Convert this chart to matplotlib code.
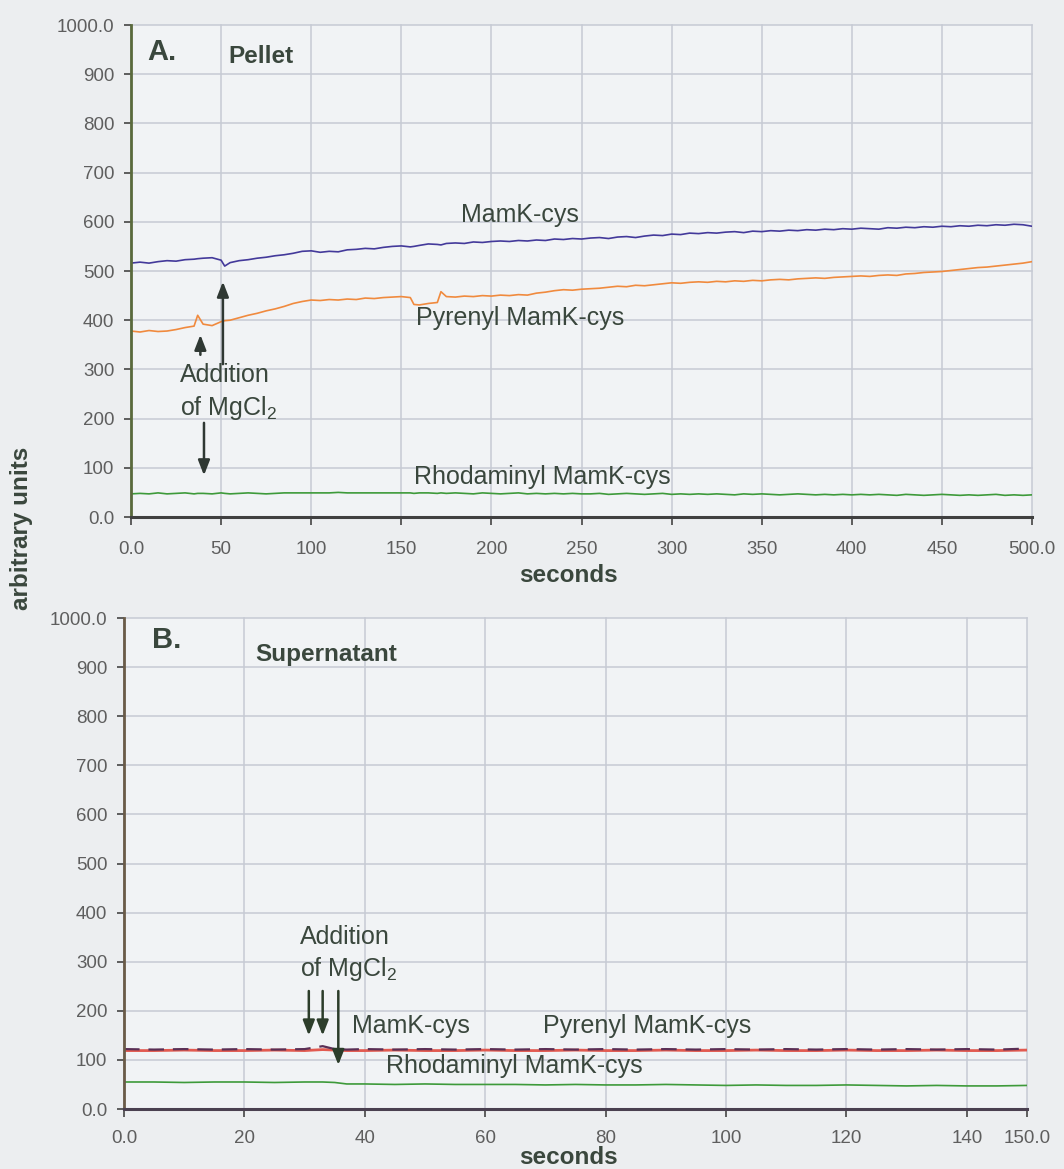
import matplotlib
matplotlib.use("Agg")
import matplotlib.pyplot as plt
from matplotlib.ticker import FixedLocator, FixedFormatter

plt.rcParams['font.family'] = ['Liberation Sans', 'DejaVu Sans']
plt.rcParams['mathtext.fontset'] = 'custom'
plt.rcParams['mathtext.rm'] = 'Liberation Sans'
plt.rcParams['mathtext.it'] = 'Liberation Sans:italic'
plt.rcParams['mathtext.bf'] = 'Liberation Sans:bold'

# ---------------- Panel A: pellet, 0-500 s ----------------
t_a = [0, 5, 10, 15, 20, 25, 30, 35, 37, 40, 45, 50, 52, 55, 60, 65, 70, 75, 80, 85,
       90, 95, 100, 105, 110, 115, 120, 125, 130, 135, 140, 145, 150, 155, 157, 160,
       165, 170, 172, 175, 180, 185, 190, 195, 200, 205, 210, 215, 220, 225, 230,
       235, 240, 245, 250, 255, 260, 265, 270, 275, 280, 285, 290, 295, 300, 305,
       310, 315, 320, 325, 330, 335, 340, 345, 350, 355, 360, 365, 370, 375, 380,
       385, 390, 395, 400, 405, 410, 415, 420, 425, 430, 435, 440, 445, 450, 455,
       460, 465, 470, 475, 480, 485, 490, 495, 500]

mamk_a = [516, 518, 516, 519, 521, 520, 523, 524, 525, 526, 527, 522, 510, 517, 521,
          523, 526, 528, 531, 533, 536, 540, 541, 538, 540, 539, 543, 544, 546, 545,
          548, 550, 551, 549, 550, 552, 555, 554, 553, 556, 557, 556, 559, 558, 560,
          561, 560, 562, 561, 563, 562, 565, 564, 566, 565, 567, 568, 566, 569, 570,
          568, 571, 573, 572, 575, 574, 577, 576, 578, 577, 579, 580, 578, 581, 580,
          582, 581, 583, 582, 584, 583, 585, 584, 586, 585, 587, 586, 585, 588, 587,
          589, 588, 590, 589, 591, 590, 592, 591, 593, 592, 594, 593, 595, 594, 591]

pyrenyl_a = [378, 376, 379, 377, 378, 381, 385, 388, 410, 392, 389, 397, 399, 400, 405,
             410, 414, 419, 423, 428, 434, 438, 441, 440, 442, 441, 443, 442, 445, 444,
             446, 447, 448, 446, 432, 431, 434, 436, 458, 448, 447, 449, 448, 450, 449,
             451, 450, 452, 451, 455, 457, 460, 462, 461, 463, 464, 465, 467, 469, 468,
             471, 470, 472, 474, 476, 475, 477, 478, 477, 479, 478, 480, 479, 481, 480,
             482, 483, 482, 484, 485, 486, 485, 487, 488, 489, 490, 489, 491, 492, 491,
             494, 495, 497, 498, 499, 501, 503, 505, 507, 508, 510, 512, 514, 516, 519]

rhodaminyl_a = [47, 48, 47, 49, 47, 48, 49, 47, 48, 48, 47, 49, 48, 47, 48,
                49, 48, 47, 48, 49, 49, 49, 49, 49, 49, 50, 49, 49, 49, 49,
                49, 49, 49, 49, 48, 49, 49, 48, 49, 48, 49, 48, 47, 49, 48,
                47, 48, 49, 47, 48, 47, 48, 47, 48, 47, 47, 48, 46, 47, 48,
                47, 46, 47, 48, 46, 47, 46, 47, 46, 47, 46, 45, 47, 46, 47,
                46, 45, 46, 47, 46, 45, 46, 45, 46, 45, 46, 45, 46, 45, 44,
                46, 45, 44, 45, 46, 45, 44, 45, 44, 45, 46, 44, 45, 44, 45]

xticks_a = [0, 50, 100, 150, 200, 250, 300, 350, 400, 450, 500]
xlabels_a = ["0.0", "50", "100", "150", "200", "250", "300", "350", "400", "450", "500.0"]

# ---------------- Panel B: supernatant, 0-150 s ----------------
t_b = [0, 5, 10, 15, 20, 25, 30, 33, 35, 37, 40, 45, 50, 55, 60, 65, 70, 75, 80, 85,
       90, 95, 100, 105, 110, 115, 120, 125, 130, 135, 140, 145, 150]

mamk_b = [122, 121, 122, 121, 122, 121, 122, 128, 122, 121, 122, 121, 122, 121, 122,
          121, 122, 121, 122, 121, 122, 121, 122, 121, 122, 121, 122, 121, 122, 121,
          122, 121, 123]

pyrenyl_b = [119, 119, 120, 119, 119, 120, 119, 121, 120, 119, 119, 120, 119, 119, 120,
             119, 119, 120, 119, 119, 120, 119, 119, 120, 119, 119, 120, 119, 119, 120,
             119, 119, 120]

rhodaminyl_b = [55, 55, 54, 55, 55, 54, 55, 55, 54, 51, 51, 50, 51, 50, 50,
                50, 49, 50, 49, 49, 50, 49, 48, 49, 48, 48, 49, 48, 47, 48,
                47, 47, 48]

xticks_b = [0, 20, 40, 60, 80, 100, 120, 140, 150]
xlabels_b = ["0.0", "20", "40", "60", "80", "100", "120", "140", "150.0"]

yticks = [0, 100, 200, 300, 400, 500, 600, 700, 800, 900, 1000]
ylabels = ["0.0", "100", "200", "300", "400", "500", "600", "700", "800", "900", "1000.0"]

# ---------------- styling ----------------
BG = "#eceef0"
PANEL = "#f1f3f5"
GRID = "#c6cad4"
TXT = "#3a473d"
TICK_TXT = "#5e5e5e"
ARROW = "#2f3833"

fig = plt.figure(figsize=(10.64, 11.69), dpi=100, facecolor=BG)

ax_a = fig.add_axes([131 / 1064, 1 - 517 / 1169, 901 / 1064, 492 / 1169])
ax_b = fig.add_axes([124 / 1064, 1 - 1109 / 1169, 903 / 1064, 491 / 1169])


def style_axes(ax, xmax, xt, xl, left_col, bottom_col, xpad):
    ax.set_facecolor(PANEL)
    ax.set_xlim(0, xmax)
    ax.set_ylim(0, 1000)
    ax.xaxis.set_major_locator(FixedLocator(xt))
    ax.xaxis.set_major_formatter(FixedFormatter(xl))
    ax.yaxis.set_major_locator(FixedLocator(yticks))
    ax.yaxis.set_major_formatter(FixedFormatter(ylabels))
    ax.grid(True, color=GRID, linewidth=1.1)
    ax.set_axisbelow(True)
    for side in ("top", "right"):
        ax.spines[side].set_visible(False)
    ax.spines["left"].set_color(left_col)
    ax.spines["left"].set_linewidth(2.0)
    ax.spines["bottom"].set_color(bottom_col)
    ax.spines["bottom"].set_linewidth(2.2)
    ax.tick_params(axis="y", direction="out", length=5, width=1.2, color="#444444",
                   labelsize=13.5, labelcolor=TICK_TXT, pad=7)
    ax.tick_params(axis="x", direction="out", length=6, width=1.2, color="#444444",
                   labelsize=13.5, labelcolor=TICK_TXT, pad=xpad)
    for g in ax.get_xgridlines() + ax.get_ygridlines():
        g.set_clip_on(False)


style_axes(ax_a, 500, xticks_a, xlabels_a, "#5a6a3c", "#404040", 11)
style_axes(ax_b, 150, xticks_b, xlabels_b, "#6a5b48", "#4a4050", 9)

# ---------------- Panel A traces ----------------
ax_a.plot(t_a, mamk_a, color="#43399a", linewidth=1.2)
ax_a.plot(t_a, pyrenyl_a, color="#f08a3e", linewidth=1.2)
ax_a.plot(t_a, rhodaminyl_a, color="#3e9a3a", linewidth=1.2)

LBL = 18
ax_a.text(9, 945, "A.", fontsize=21, fontweight="bold", color=TXT, va="center")
ax_a.text(54, 935, "Pellet", fontsize=17.5, fontweight="bold", color=TXT, va="center")
ax_a.text(216, 614, "MamK-cys", fontsize=LBL, color=TXT, ha="center", va="center")
ax_a.text(158, 404, "Pyrenyl MamK-cys", fontsize=LBL, color=TXT, va="center")
ax_a.text(157, 81, "Rhodaminyl MamK-cys", fontsize=LBL, color=TXT, va="center")
ax_a.text(27, 289, "Addition", fontsize=LBL, color=TXT, va="center")
ax_a.text(27, 222, "of MgCl$_{2}$", fontsize=LBL, color=TXT, va="center")

arrow_kw = dict(arrowstyle="-|>,head_length=0.9,head_width=0.35", color=ARROW, lw=1.8)
ax_a.annotate("", xy=(51, 484), xytext=(51, 305), arrowprops=arrow_kw)
ax_a.annotate("", xy=(38.5, 376), xytext=(38.5, 324), arrowprops=arrow_kw)
ax_a.annotate("", xy=(40.5, 79), xytext=(40.5, 197), arrowprops=arrow_kw)

# ---------------- Panel B traces ----------------
ax_b.plot(t_b, pyrenyl_b, color="#e25a50", linewidth=2.0)
ax_b.plot(t_b, mamk_b, color="#5a2f55", linewidth=1.6, linestyle=(0, (7, 4)))
ax_b.plot(t_b, rhodaminyl_b, color="#3e9a3a", linewidth=1.2)

ax_b.text(4.6, 955, "B.", fontsize=21, fontweight="bold", color=TXT, va="center")
ax_b.text(21.8, 925, "Supernatant", fontsize=17.5, fontweight="bold", color=TXT, va="center")
ax_b.text(37.8, 169, "MamK-cys", fontsize=LBL, color=TXT, va="center")
ax_b.text(69.6, 169, "Pyrenyl MamK-cys", fontsize=LBL, color=TXT, va="center")
ax_b.text(43.5, 88, "Rhodaminyl MamK-cys", fontsize=LBL, color=TXT, va="center")
ax_b.text(29.2, 350, "Addition", fontsize=LBL, color=TXT, va="center")
ax_b.text(29.2, 285, "of MgCl$_{2}$", fontsize=LBL, color=TXT, va="center")

arrow_b = dict(arrowstyle="-|>,head_length=0.9,head_width=0.35", color="#2c3d2a", lw=1.8)
ax_b.annotate("", xy=(30.7, 144), xytext=(30.7, 246), arrowprops=arrow_b)
ax_b.annotate("", xy=(33.0, 144), xytext=(33.0, 246), arrowprops=arrow_b)
ax_b.annotate("", xy=(35.6, 84), xytext=(35.6, 246), arrowprops=arrow_b)

# ---------------- shared axis titles ----------------
fig.text(568 / 1064, 1 - 575 / 1169, "seconds", fontsize=17.5, fontweight="bold",
         color=TXT, ha="center", va="center")
fig.text(568 / 1064, 1 - 1158 / 1169, "seconds", fontsize=17.5, fontweight="bold",
         color=TXT, ha="center", va="center")
fig.text(22 / 1064, 1 - 528 / 1169, "arbitrary units", fontsize=17.5, fontweight="bold",
         color=TXT, ha="center", va="center", rotation=90)

fig.savefig("out.png", dpi=100, facecolor=BG)
